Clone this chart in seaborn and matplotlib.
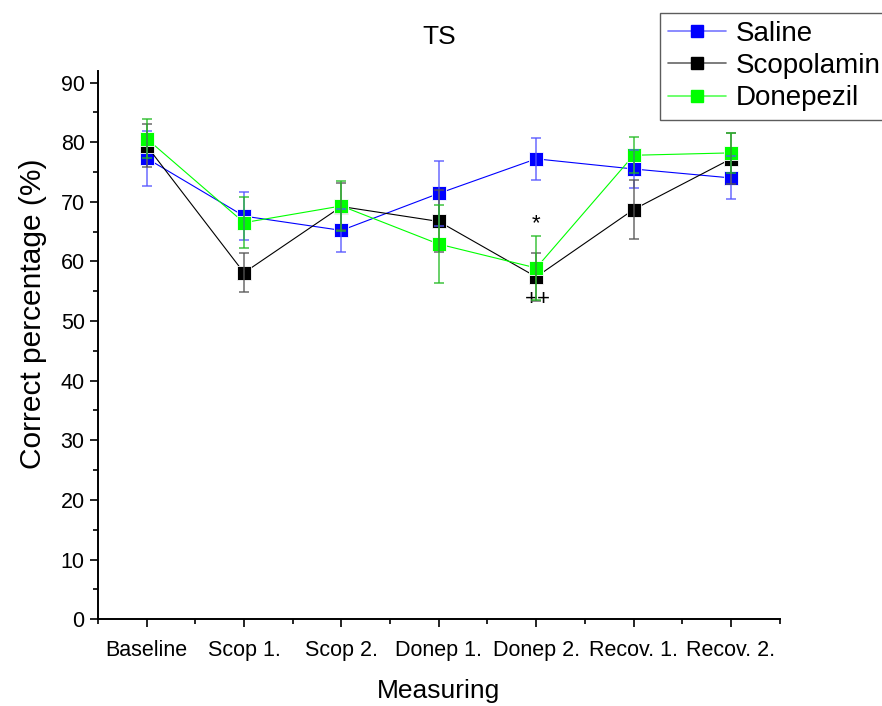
import numpy as np
import pandas as pd
import matplotlib
matplotlib.use("Agg")
import matplotlib.pyplot as plt
from matplotlib.ticker import MultipleLocator
from matplotlib.lines import Line2D
import seaborn as sns

# data
measures = ["Baseline", "Scop 1.", "Scop 2.", "Donep 1.", "Donep 2.", "Recov. 1.", "Recov. 2."]
groups = ["Saline", "Scopolamin", "Donepezil"]

saline = [77.3, 67.6, 65.2, 71.4, 77.2, 75.5, 74.0]
saline_err = [4.6, 4.0, 3.6, 5.4, 3.5, 3.2, 3.6]

scopolamin = [79.4, 58.1, 69.2, 66.7, 57.4, 68.7, 77.2]
scopolamin_err = [3.6, 3.3, 4.0, 5.2, 4.0, 5.0, 4.3]

donepezil = [80.6, 66.5, 69.3, 62.9, 58.9, 77.8, 78.2]
donepezil_err = [3.2, 4.3, 4.2, 6.5, 5.3, 3.0, 3.3]

colors = ["#0000ff", "#000000", "#00ff00"]
err_colors = ["#5555ff", "#555555", "#22bb22"]
leg_colors = ["#7777ff", "#666666", "#55ff55"]

pos = np.arange(1, len(measures) + 1)

df = pd.DataFrame({
    "pos": np.tile(pos, 3),
    "value": saline + scopolamin + donepezil,
    "err": saline_err + scopolamin_err + donepezil_err,
    "group": np.repeat(groups, len(measures)),
})

sns.set_style("ticks")
plt.rcParams["font.family"] = ["Liberation Sans", "DejaVu Sans"]
plt.rcParams["text.color"] = "black"
plt.rcParams["axes.labelcolor"] = "black"
plt.rcParams["xtick.color"] = "black"
plt.rcParams["ytick.color"] = "black"
plt.rcParams["axes.edgecolor"] = "black"

fig = plt.figure(figsize=(8.82, 7.06), dpi=100)
ax = fig.add_axes([0.111, 0.123, 0.773, 0.777])

sns.lineplot(data=df, x="pos", y="value", hue="group", hue_order=groups,
             palette=colors, marker="s", markersize=10, markeredgewidth=0.6,
             linewidth=0.8, ax=ax, legend=False, errorbar=None)

# error bars on top, a bit transparent like the original
for i, g in enumerate(groups):
    sub = df[df["group"] == g]
    ax.errorbar(sub["pos"], sub["value"], yerr=sub["err"], fmt="none",
                ecolor=err_colors[i], elinewidth=1.2, capsize=3.6,
                capthick=1.2, alpha=0.8, zorder=5)

# significance marks
ax.text(5, 66.3, "*", ha="center", va="center", fontsize=16)
ax.text(5.02, 53.6, "++", ha="center", va="center", fontsize=16)

ax.set_xlim(0.5, 7.5)
ax.set_ylim(0, 92)
ax.set_xticks(pos)
ax.set_xticklabels(measures, fontsize=15.5)
ax.xaxis.set_minor_locator(MultipleLocator(0.5))
ax.yaxis.set_major_locator(MultipleLocator(10))
ax.yaxis.set_minor_locator(MultipleLocator(5))
ax.tick_params(axis="y", labelsize=15.5)
ax.tick_params(axis="x", pad=9)
ax.tick_params(which="major", direction="out", length=6, width=1.2)
ax.tick_params(which="minor", direction="out", length=3.5, width=1.2)
for s in ["left", "bottom"]:
    ax.spines[s].set_linewidth(1.4)
sns.despine(ax=ax)

ax.set_xlabel("Measuring", fontsize=19, labelpad=13)
ax.set_ylabel("Correct percentage (%)", fontsize=21.5)
ax.yaxis.set_label_coords(-0.075, 0.556)
ax.set_title("TS", fontsize=19, pad=19)

# legend
handles = [Line2D([0], [0], color=leg_colors[i], lw=1.2, marker="s",
                  markersize=9, markerfacecolor=colors[i], markeredgecolor=colors[i])
           for i in range(3)]
leg = fig.legend(handles, groups, loc="upper left", bbox_to_anchor=(0.748, 0.982),
                 fontsize=20, frameon=True, fancybox=False, borderpad=0.3,
                 labelspacing=0.22, handlelength=2.1, handletextpad=0.35,
                 borderaxespad=0)
leg.get_frame().set_edgecolor("#333333")
leg.get_frame().set_linewidth(1.0)

fig.savefig("out.png", dpi=100)
